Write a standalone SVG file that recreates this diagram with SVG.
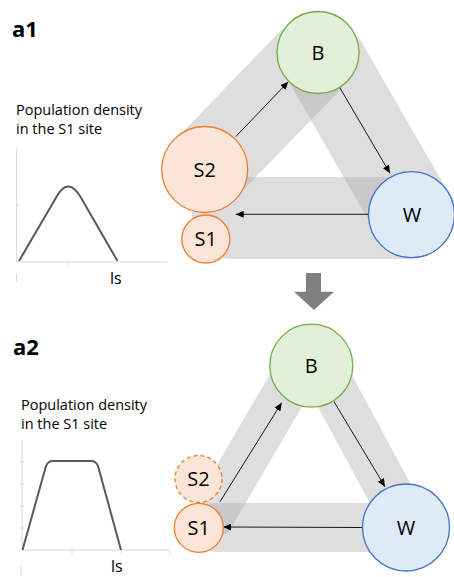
<svg xmlns="http://www.w3.org/2000/svg" width="454" height="577" viewBox="0 0 454 577">
<defs>
<style>
.band{fill:#a5a5a5;fill-opacity:0.37}
.lbl{font-family:"Open Sans","Liberation Sans",sans-serif;font-size:20px;fill:#000;text-anchor:middle}
.txt{font-family:"Open Sans","Liberation Sans",sans-serif;font-size:14.5px;fill:#000}
.head{font-family:"Open Sans","Liberation Sans",sans-serif;font-size:22px;font-weight:bold;fill:#000}
.ax{stroke:#d9d9d9;stroke-width:1;fill:none}
.crv{stroke:#595959;stroke-width:2;fill:none;stroke-linejoin:round}
.s{fill:#fbe5d6;stroke:#ed7d31;stroke-width:1.3}
.b{fill:#e2f0d9;stroke:#70ad47;stroke-width:1.3}
.w{fill:#deebf7;stroke:#4472c4;stroke-width:1.3}
.con{stroke:#000;stroke-width:0.9;fill:none;marker-end:url(#ah)}
</style>
<marker id="ah" viewBox="0 0 8 7" refX="8" refY="3.5" markerWidth="8" markerHeight="7" markerUnits="userSpaceOnUse" orient="auto">
<path d="M0,0 L8,3.5 L0,7 z" fill="#000"/>
</marker>
</defs>
<rect width="454" height="577" fill="#fff"/>

<!-- headings -->
<text class="head" x="12" y="37">a1</text>
<text class="head" x="13" y="355">a2</text>

<!-- chart a1 -->
<g id="chart-a1">
<text class="txt" x="16" y="115">Population density</text>
<text class="txt" x="16" y="134">in the S1 site</text>
<path class="ax" d="M16.7,148 V262 H167 M16.7,205 H19.5 M68,262 V265.5 M16.5,274 V282"/>
<path class="crv" d="M19,261 L57,196 Q68,177 80,196 L117.5,261"/>
<text class="txt" x="110" y="284" style="font-size:16px">ls</text>
</g>

<!-- chart a2 -->
<g id="chart-a2">
<text class="txt" x="21" y="410">Population density</text>
<text class="txt" x="21" y="429">in the S1 site</text>
<path class="ax" d="M22,440 V550 H170 M20,462 H24 M20,484 H24 M20,506 H24 M20,528 H24 M72,550 V554 M121,550 V554 M170,550 V554 M21,566 V576"/>
<path class="crv" d="M22.5,550 L46,466 Q48,461 53,461 L91,461 Q96,461 98,466 L121,550"/>
<text class="txt" x="111" y="572" style="font-size:16px">ls</text>
</g>

<!-- gray bands -->
<g id="bands-a1">
<rect class="band" x="0" y="-42" width="163" height="84" rx="12" transform="translate(204.7,169.5) rotate(-45.92)"/>
<rect class="band" x="0" y="-43" width="187" height="83" rx="12" transform="translate(318,52.5) rotate(60.04)"/>
<rect class="band" x="192" y="177" width="254" height="82" rx="36"/>
</g>
<g id="bands-a2">
<rect class="band" x="0" y="-22" width="192" height="44" rx="10" transform="translate(205.8,527.8) rotate(-59.76)"/>
<rect class="band" x="0" y="-22.5" width="184" height="45" rx="10" transform="translate(321.3,365.7) rotate(61.65)"/>
<rect class="band" x="192" y="503" width="228" height="49" rx="24"/>
</g>

<!-- big arrow -->
<polygon points="306,273 321,273 321,291.7 334,291.7 314,310 294,291.7 306,291.7" fill="#7f7f7f"/>

<!-- connectors -->
<g id="connectors">
<line class="con" x1="235.7" y1="136.7" x2="288.3" y2="81.7"/>
<line class="con" x1="340" y1="88" x2="390" y2="173.3"/>
<line class="con" x1="368.5" y1="214.3" x2="235.7" y2="214.3"/>
<line class="con" x1="220" y1="501.7" x2="281.7" y2="402.7"/>
<line class="con" x1="334" y1="401.7" x2="385" y2="486.7"/>
<line class="con" x1="362.5" y1="527.5" x2="223.3" y2="527"/>
</g>

<!-- nodes a1 -->
<g id="a1-B"><circle class="b" cx="318" cy="52.5" r="41"/><text class="lbl" x="318" y="59.8">B</text></g>
<g id="a1-S2"><circle class="s" cx="204.7" cy="169.5" r="43"/><text class="lbl" x="204.7" y="176.8">S2</text></g>
<g id="a1-S1"><circle class="s" cx="205.8" cy="239" r="24"/><text class="lbl" x="205.8" y="246.3">S1</text></g>
<g id="a1-W"><circle class="w" cx="411.5" cy="214.7" r="43"/><text class="lbl" x="412" y="222">W</text></g>

<!-- nodes a2 -->
<g id="a2-B"><circle class="b" cx="311.3" cy="365.7" r="41.5"/><text class="lbl" x="311.3" y="373">B</text></g>
<g id="a2-S2"><circle class="s" cx="198.5" cy="479" r="23.5" stroke-dasharray="4,3"/><text class="lbl" x="198.5" y="486.3">S2</text></g>
<g id="a2-S1"><circle class="s" cx="198.8" cy="527.8" r="24.5"/><text class="lbl" x="198.8" y="535.1">S1</text></g>
<g id="a2-W"><circle class="w" cx="406" cy="527.5" r="43.5"/><text class="lbl" x="406" y="534.8">W</text></g>
</svg>
